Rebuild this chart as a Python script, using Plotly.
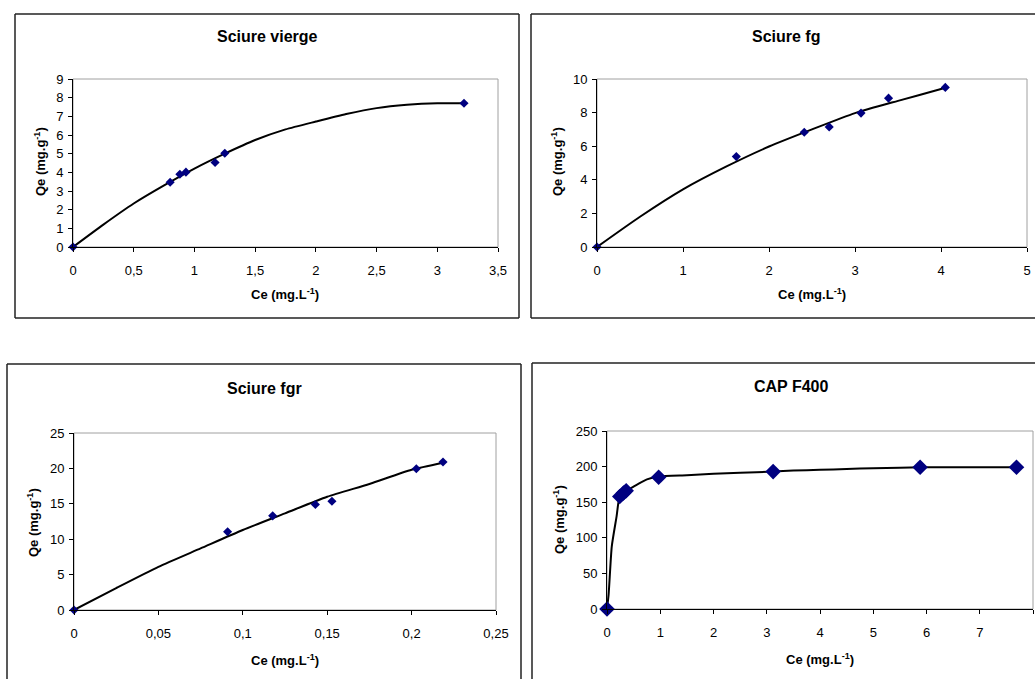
import plotly.graph_objects as go

W, H = 1035, 679

# ---------------- data ----------------
# Sciure vierge
sv_ce = [0, 0.80, 0.88, 0.93, 1.17, 1.25, 3.22]
sv_qe = [0, 3.47, 3.90, 4.01, 4.53, 5.02, 7.70]
sv_fit_ce = [0, 0.25, 0.5, 0.75, 1.0, 1.25, 1.5, 1.75, 2.0, 2.25, 2.5, 2.75, 3.0, 3.22]
sv_fit_qe = [0, 1.20, 2.33, 3.30, 4.20, 5.00, 5.73, 6.30, 6.72, 7.12, 7.44, 7.62, 7.70, 7.70]

# Sciure fg
fg_ce = [0, 1.62, 2.41, 2.70, 3.07, 3.39, 4.05]
fg_qe = [0, 5.38, 6.83, 7.15, 7.97, 8.86, 9.50]
fg_fit_ce = [0, 0.5, 1.0, 1.5, 2.0, 2.5, 3.0, 3.5, 4.0, 4.05]
fg_fit_qe = [0, 1.80, 3.43, 4.78, 5.98, 7.00, 7.97, 8.70, 9.40, 9.48]

# Sciure fgr
fgr_ce = [0, 0.091, 0.1177, 0.143, 0.1528, 0.2028, 0.2186]
fgr_qe = [0, 11.06, 13.30, 14.90, 15.35, 19.96, 20.90]
fgr_fit_ce = [0, 0.025, 0.05, 0.075, 0.1, 0.125, 0.15, 0.175, 0.2, 0.2186]
fgr_fit_qe = [0, 3.10, 6.10, 8.70, 11.30, 13.65, 16.00, 17.80, 19.80, 20.80]

# CAP F400
cap_ce = [0, 0.24, 0.31, 0.36, 0.97, 3.12, 5.88, 7.69]
cap_qe = [0, 158, 163, 166, 185, 193, 199, 199]
cap_fit_ce = [0, 0.03, 0.09, 0.18, 0.24, 0.36, 0.5, 0.75, 0.97, 1.5, 2.0, 2.5, 3.12, 3.5, 4.0, 4.5, 5.0, 5.5, 5.88, 7.69]
cap_fit_qe = [0, 20, 88, 130, 158, 166, 172, 182, 186, 188, 190, 191.5, 193, 194.5, 195.5, 196.5, 197.8, 198.5, 199, 199]

titles = ["Sciure vierge", "Sciure fg", "Sciure fgr", "CAP F400"]
x_ranges = [[0, 3.5], [0, 5], [0, 0.25], [0, 8]]
x_dticks = [0.5, 1, 0.05, 1]
y_ranges = [[0, 9], [0, 10], [0, 25], [0, 250]]
y_dticks = [1, 2, 5, 50]

# ---------------- layout geometry (pixels) ----------------
plot_px = [  # x0, x1, ytop, ybottom
    (73, 498, 79, 247),
    (597, 1027, 79, 247),
    (74, 496, 433, 610),
    (607, 1033, 431, 609),
]
# border segments per panel (pixel coords), only the visible sides
border_lines = [
    [(15, 14, 519, 14), (15, 318, 519, 318), (15, 14, 15, 318), (519, 14, 519, 318)],
    [(531, 14, 1035, 14), (531, 318, 1035, 318), (531, 14, 531, 318)],
    [(7, 364, 521, 364), (7, 364, 7, 679), (521, 364, 521, 679)],
    [(532, 363, 1035, 363), (532, 363, 532, 679)],
]
title_px = [(267, 36), (786, 36), (264, 388), (791, 386)]
xtitle_px = [(285, 294), (812, 294), (285, 660), (820, 659)]
ytitle_px = [(40, 162), (557, 162), (33, 523), (559, 520)]

series = [
    (sv_ce, sv_qe, sv_fit_ce, sv_fit_qe, 7),
    (fg_ce, fg_qe, fg_fit_ce, fg_fit_qe, 7),
    (fgr_ce, fgr_qe, fgr_fit_ce, fgr_fit_qe, 7),
    (cap_ce, cap_qe, cap_fit_ce, cap_fit_qe, 12),
]

FONT = "Liberation Sans, Arial, sans-serif"
fig = go.Figure()
shapes = []
annotations = []

def px_x(v):
    return v / W

def px_y(v):
    return 1 - v / H

for i in range(4):
    n = "" if i == 0 else str(i + 1)
    xa, ya = "x" + n, "y" + n
    ce, qe, fce, fqe, msize = series[i]
    fig.add_trace(go.Scatter(
        x=fce, y=fqe, xaxis=xa, yaxis=ya, mode="lines",
        line=dict(color="black", width=2, shape="spline", smoothing=0.6),
        showlegend=False, hoverinfo="skip", cliponaxis=False))
    fig.add_trace(go.Scatter(
        x=ce, y=qe, xaxis=xa, yaxis=ya, mode="markers",
        marker=dict(symbol="diamond", size=msize, color="#000080", line=dict(width=0)),
        showlegend=False, cliponaxis=False))

    x0, x1, yt, yb = plot_px[i]
    axis_common = dict(
        showgrid=False, zeroline=False, showline=True, linecolor="black", linewidth=1,
        ticks="outside", ticklen=4, tickwidth=1, tickcolor="black",
        tickfont=dict(family=FONT, size=13, color="black"),
        automargin=False,
    )
    fig.layout["xaxis" + n] = dict(
        domain=[px_x(x0), px_x(x1)], anchor=ya, range=x_ranges[i],
        tick0=0, dtick=x_dticks[i], ticklabelstandoff=7, **axis_common)
    fig.layout["yaxis" + n] = dict(
        domain=[px_y(yb), px_y(yt)], anchor=xa, range=y_ranges[i],
        tick0=0, dtick=y_dticks[i], ticklabelstandoff=2, **axis_common)

    # gray plot-area frame (top/right visible)
    shapes.append(dict(type="rect", xref=xa + " domain", yref=ya + " domain",
                       x0=0, x1=1, y0=0, y1=1, line=dict(color="#a0a0a0", width=1),
                       layer="below"))
    # chart border
    for (lx0, ly0, lx1, ly1) in border_lines[i]:
        shapes.append(dict(type="line", xref="paper", yref="paper",
                           x0=px_x(lx0), x1=px_x(lx1), y0=px_y(ly0), y1=px_y(ly1),
                           line=dict(color="#222222", width=1.5)))

    tx, ty = title_px[i]
    annotations.append(dict(text="<b>%s</b>" % titles[i], x=px_x(tx), y=px_y(ty),
                            xref="paper", yref="paper", showarrow=False,
                            xanchor="center", yanchor="middle",
                            font=dict(family=FONT, size=16, color="black")))
    ax_, ay_ = xtitle_px[i]
    annotations.append(dict(text="<b>Ce (mg.L<sup>-1</sup>)</b>", x=px_x(ax_), y=px_y(ay_),
                            xref="paper", yref="paper", showarrow=False,
                            xanchor="center", yanchor="middle",
                            font=dict(family=FONT, size=13, color="black")))
    yx_, yy_ = ytitle_px[i]
    annotations.append(dict(text="<b>Qe (mg.g<sup>-1</sup>)</b>", x=px_x(yx_), y=px_y(yy_),
                            xref="paper", yref="paper", showarrow=False, textangle=-90,
                            xanchor="center", yanchor="middle",
                            font=dict(family=FONT, size=13, color="black")))

fig.update_layout(
    width=W, height=H, margin=dict(l=0, r=0, t=0, b=0, pad=0, autoexpand=False),
    paper_bgcolor="white", plot_bgcolor="white",
    separators=", ", shapes=shapes, annotations=annotations,
    font=dict(family=FONT, color="black"),
)

post = (
    "document.documentElement.style.overflow='hidden';"
    "document.body.style.margin='0';document.body.style.overflow='hidden';"
    "var gd=document.getElementById('{plot_id}');"
    "gd.style.overflow='hidden';"
    "gd.parentElement.style.width='1035px';gd.parentElement.style.height='679px';"
    "gd.parentElement.style.overflow='hidden';"
)
fig.write_html("out.html", config={"displayModeBar": False, "staticPlot": True},
               post_script=post)
